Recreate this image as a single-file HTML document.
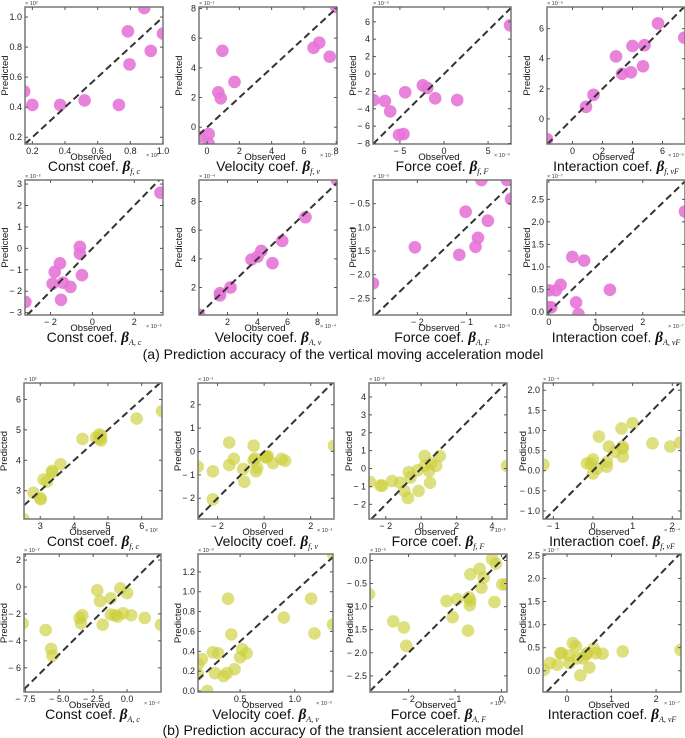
<!DOCTYPE html>
<html><head><meta charset="utf-8">
<style>
html,body{margin:0;padding:0;background:#fff;}
svg{display:block;font-family:"Liberation Sans",sans-serif;}
</style></head>
<body>
<svg id="fig" width="685" height="738" viewBox="0 0 685 738">
<text x="343" y="359" text-anchor="middle" font-size="14" fill="#111">(a) Prediction accuracy of the vertical moving acceleration model</text>
<text x="343" y="735" text-anchor="middle" font-size="14" fill="#111">(b) Prediction accuracy of the transient acceleration model</text>
</svg>
<script>
// ---- data: observed / predicted values per panel ----
const obs1=[0.15,0.2,0.37,0.52,0.73,0.785,0.795,0.885,0.925,1.0];
const pred1=[0.505,0.415,0.415,0.445,0.415,0.905,0.685,1.06,0.775,0.89];
const obs2=[-0.5,0.1,0.1,0.7,0.85,0.95,1.7,6.6,6.95,7.6,8.0];
const pred2=[-0.65,-0.45,-1.1,2.35,1.95,5.15,3.05,5.35,5.7,4.75,8.1];
const obs3=[-8,-6.7,-6.1,-4.4,-5.1,-4.6,-2.4,-1.9,-1.0,1.5,7.5];
const pred3=[-3,-3.1,-4.3,-2.1,-7,-6.9,-1.3,-1.6,-2.8,-3,5.6];
const obs4=[-1.7,0.9,1.4,2.9,3.3,3.9,4.0,4.7,4.8,5.7,7.45];
const pred4=[-1.35,0.8,1.6,4.15,3.0,3.1,4.85,3.5,4.9,6.35,5.4];
const obs5=[-3.2,-1.9,-1.8,-1.55,-1.5,-1.4,-1.05,-0.6,-0.6,-0.5,3.25];
const pred5=[-2.5,-1.65,-1.1,-0.7,-2.4,-1.6,-1.8,0.07,-0.25,-1.25,2.6];
const obs6=[0.1,1.5,1.5,2.2,3.6,4.0,4.25,5.0,5.65,7.2,9.3];
const pred6=[0.1,1.6,1.45,2.0,3.95,4.15,4.55,3.7,5.25,6.9,9.5];
const obs7=[-2.9,-2.05,-1.15,-1.02,-0.82,-0.77,-0.57,-0.7,-0.18,-0.1];
const pred7=[-2.18,-1.42,-1.58,-0.67,-1.41,-1.22,-0.86,0.0,0.0,-0.4];
const obs8=[0,0,0.05,0.15,0.25,0.5,0.58,0.63,0.75,1.3,2.9];
const pred8=[0.48,0.1,0.1,0.48,0.6,1.22,0.21,-0.05,1.14,0.49,2.23];
const obs9=[2.5,2.8,3.0,3.02,3.1,3.2,3.35,3.35,3.6,4.25,4.65,4.75,4.8,4.8,4.75,5.85,6.6];
const pred9=[2.07,2.93,2.75,2.72,3.37,3.3,3.6,3.65,3.87,4.7,4.75,4.85,4.65,4.8,4.7,5.37,5.62];
const obs10=[-2.85,-2.2,-2.2,-1.5,-1.5,-1.3,-0.9,-0.85,-0.45,-0.45,-0.4,-0.35,-0.3,0.05,0.1,0.15,0.38,0.75,0.9,3.0];
const pred10=[-0.65,-0.85,-2.05,0.38,-0.58,-0.32,-0.75,-1.3,0.25,-0.38,-0.3,-0.85,-0.7,-0.25,-0.25,-0.2,-0.5,-0.32,-0.4,0.25];
const obs11=[-2.9,-2.3,-2.2,-1.65,-1.2,-0.95,-0.75,-0.7,-0.6,-0.2,-0.15,0.2,0.2,0.45,0.5,0.55,0.85,1.05,4.85];
const pred11=[-0.75,-0.95,-0.95,-0.7,-0.78,-1.25,-1.65,-0.2,-0.5,-0.1,-1.25,0.7,0.15,-0.15,-0.8,0.3,0.15,0.7,0.15];
const obs12=[-1.25,-0.15,-0.05,0.0,0.0,0.1,0.15,0.35,0.35,0.4,0.55,0.72,0.75,0.75,0.75,1.0,1.5,1.95,2.2];
const pred12=[0.15,0.18,0.18,0.28,-0.07,0.05,0.85,0.22,0.1,0.6,0.47,1.05,0.6,0.55,0.35,1.18,0.68,0.6,0.7];
const obs13=[-7.7,-6.0,-5.6,-5.5,-3.5,-3.4,-3.3,-2.2,-2.0,-1.8,-1.2,-1.2,-0.9,-0.7,-0.5,-0.3,0.0,0.3,1.3,2.5];
const pred13=[-2.7,-3.2,-4.6,-5.1,-2.3,-2.7,-2.1,-0.25,-1.05,-2.8,-0.85,-2.05,-2.1,-2.2,-0.1,-1.95,-0.45,-2.1,-2.3,-2.8];
const obs14=[0.115,0.115,0.15,0.2,0.25,0.27,0.3,0.35,0.38,0.39,0.42,0.45,0.5,0.52,0.56,0.9,1.15,1.18,1.35,1.35];
const pred14=[0.17,0.27,0.32,0.0,0.39,0.18,0.38,0.15,0.18,0.93,0.57,0.22,0.34,0.42,0.38,0.74,0.93,0.58,0.67,1.38];
const obs15=[-2.85,-2.33,-2.1,-2.05,-1.18,-1.05,-0.95,-0.72,-0.7,-0.68,-0.67,-0.67,-0.47,-0.43,-0.38,-0.2,-0.15,-0.12,0.02,0.1];
const pred15=[-0.73,-1.32,-1.45,-1.85,-0.88,-1.23,-0.84,-1.52,-0.8,-0.97,-0.87,-0.3,-0.18,-0.59,-0.37,0.03,-0.9,-0.07,-0.52,-0.52];
const obs16=[-0.52,-0.38,-0.22,-0.15,-0.12,0.05,0.05,0.13,0.2,0.23,0.3,0.35,0.43,0.45,0.5,0.6,0.65,0.8,1.25,2.55];
const pred16=[0.02,0.17,0.13,0.38,0.38,0.33,0.17,0.6,0.53,0.27,-0.1,0.27,0.35,0.38,0.07,0.48,0.38,0.37,0.42,0.45];
// ---- tick values per panel ----
const xTicks=[[0.2,0.4,0.6,0.8,1.0],[0,2,4,6,8],[-5,0,5],[0,2,4,6],[-2,0,2],[2,4,6,8],[-2,-1],[0,1,2],
  [3,4,5,6],[-2,0,2],[-2,0,2,4],[-1,0,1,2],[-7.5,-5,-2.5,0],[0.5,1.0],[-2,-1,0],[0,1,2]];
const yTicks=[[0.2,0.4,0.6,0.8,1.0],[0,2,4,6,8],[-8,-6,-4,-2,0,2,4,6],[0,2,4,6],[-3,-2,-1,0,1,2,3],[2,4,6,8],[-2.5,-2,-1.5,-1,-0.5],[0,0.5,1,1.5,2,2.5],
  [3,4,5,6],[-2,-1,0,1,2],[-2,-1,0,1,2,3,4],[-1,-0.5,0,0.5,1,1.5,2],[-6,-4,-2,0,2],[0,0.2,0.4,0.6,0.8,1.0,1.2],[-2.5,-2,-1.5,-1,-0.5,0],[0,0.5,1,1.5,2,2.5]];
const xDec=[1,0,0,0,0,0,0,0, 0,0,0,0,1,1,0,0];
const yDec=[1,0,0,0,0,0,1,1, 0,0,0,1,0,1,1,1];
const titles=["Const coef. ","Velocity coef. ","Force coef. ","Interaction coef. "];
const subs=[["f, c","f, v","f, F","f, vF"],["A, c","A, v","A, F","A, vF"]];
const expX=["10²","10⁻¹","10⁻³","10⁻⁵","10⁻²","10⁻⁴","10⁻⁵","10⁻⁷","10²","10⁻¹","10⁻²","10⁻⁴","10⁻²","10⁻³","10⁻⁵","10⁻⁷"];
const expY=["10²","10⁻¹","10⁻⁵","10⁻⁵","10⁻²","10⁻⁴","10⁻⁵","10⁻⁷","10²","10⁻¹","10⁻²","10⁻⁴","10⁻²","10⁻³","10⁻⁵","10⁻⁷"];
// ---- layout (axis extents) ----
const boxes=[[25,7,163,144],[199,7,337,144],[373,7,511,144],[547,7,685,144],
 [25,180,163,315],[199,180,337,315],[373,180,511,315],[547,180,685,315],
 [24,383,162,519],[198,383,334,519],[369,383,507,519],[543,383,681,519],
 [24,554,161,692],[198,554,333,692],[370,554,507,692],[543,554,681,692]];
const xRange=[[0.155,1.0],[-0.5,8.05],[-8.05,7.6],[-1.7,7.5],[-3.22,3.37],[0.1,9.3],[-2.9,-0.1],[-0.04,2.9],
 [2.52,6.6],[-2.84,3.0],[-2.95,4.85],[-1.26,2.22],[-7.6,2.5],[0.115,1.35],[-2.83,0.12],[-0.54,2.56]];
const yRange=[[0.155,1.067],[-1.13,8.1],[-8.05,7.7],[-1.67,7.44],[-3.11,3.19],[0.08,9.5],[-2.85,0.0],[-0.07,2.93],
 [2.07,6.54],[-2.89,2.93],[-2.82,4.78],[-1.2,2.18],[-7.8,2.45],[-0.01,1.38],[-2.85,0.14],[-0.46,2.53]];
const obsAll=[obs1,obs2,obs3,obs4,obs5,obs6,obs7,obs8,obs9,obs10,obs11,obs12,obs13,obs14,obs15,obs16];
const predAll=[pred1,pred2,pred3,pred4,pred5,pred6,pred7,pred8,pred9,pred10,pred11,pred12,pred13,pred14,pred15,pred16];

const NS="http://www.w3.org/2000/svg";
const svg=document.getElementById('fig');
function mk(tag,attrs,parent){const e=document.createElementNS(NS,tag);for(const k in attrs)e.setAttribute(k,attrs[k]);(parent||svg).appendChild(e);return e;}
function fmt(v,d){const s=Math.abs(v).toFixed(d);return v<0?"\u2212 "+s:s;}

for(let i=0;i<16;i++){
  const [x0,y0,x1,y1]=boxes[i];
  const [xa,xb]=xRange[i],[ya,yb]=yRange[i];
  const sx=v=>x0+(v-xa)/(xb-xa)*(x1-x0);
  const sy=v=>y1-(v-ya)/(yb-ya)*(y1-y0);
  const g=mk('g',{});
  
  
  const cp=mk('clipPath',{id:'cp'+i},g);
  mk('rect',{x:x0,y:y0,width:x1-x0,height:y1-y0},cp);
  const pts=mk('g',{'clip-path':'url(#cp'+i+')'},g);
  const color=i<8?'#e574d6':'#cdd03c';
  const op=i<8?0.9:0.65;
  const o=obsAll[i],p=predAll[i];
  for(let k=0;k<o.length;k++){
    const c=mk('circle',{cx:sx(o[k]),cy:sy(p[k]),r:6.3,fill:color,'fill-opacity':op},pts);
    
    
  }
  const lo=Math.max(xa,ya),hi=Math.min(xb,yb);
  const dl=mk('line',{x1:sx(lo),y1:sy(lo),x2:sx(hi),y2:sy(hi),stroke:'#333','stroke-width':2,'stroke-dasharray':'7,4'},pts);
  
  
  const fr=mk('rect',{x:x0,y:y0,width:x1-x0,height:y1-y0,fill:'none',stroke:'#777','stroke-width':1.5},g);
  
  
  xTicks[i].forEach(v=>{
    const X=sx(v);
    mk('line',{x1:X,y1:y1,x2:X,y2:y1-3,stroke:'#555','stroke-width':1},g);
    mk('line',{x1:X,y1:y0,x2:X,y2:y0+3,stroke:'#555','stroke-width':1},g);
    const t=mk('text',{x:X,y:y1+10,'text-anchor':'middle','font-size':9,fill:'#222'},g);
    t.textContent=fmt(v,xDec[i]);
    
    
  });
  yTicks[i].forEach(v=>{
    const Y=sy(v);
    mk('line',{x1:x0,y1:Y,x2:x0+3,y2:Y,stroke:'#555','stroke-width':1},g);
    mk('line',{x1:x1,y1:Y,x2:x1-3,y2:Y,stroke:'#555','stroke-width':1},g);
    const t=mk('text',{x:x0-3,y:Y+3,'text-anchor':'end','font-size':9,fill:'#222'},g);
    t.textContent=fmt(v,yDec[i]);
    
    
  });
  const cx=(x0+x1)/2,cy=(y0+y1)/2;
  const yl=mk('text',{x:x0-17,y:cy,'text-anchor':'middle','font-size':9.5,fill:'#111',transform:`rotate(-90 ${x0-17} ${cy})`},g);
  yl.textContent='Predicted';
  
  
  const xl=mk('text',{x:cx-3,y:y1+16,'text-anchor':'middle','font-size':9.5,fill:'#111'},g);
  xl.textContent='Observed';
  
  
  const ex=mk('text',{x:x1-17,y:y1+13,'font-size':5.5,fill:'#333'},g);
  ex.textContent='× '+expX[i];
  
  
  const ey=mk('text',{x:x0,y:y0-2,'font-size':5.5,fill:'#333'},g);
  ey.textContent='× '+expY[i];
  
  
  const tt=mk('text',{x:cx,y:y1+27,'text-anchor':'middle','font-size':14,fill:'#111'},g);
  
  
  const s1=mk('tspan',{},tt); s1.textContent=titles[i%4];
  const s2=mk('tspan',{'font-family':'Liberation Serif, serif','font-style':'italic','font-weight':'bold','font-size':15},tt); s2.textContent='β';
  const s3=mk('tspan',{'font-family':'Liberation Serif, serif','font-style':'italic','font-size':8,dy:3},tt); s3.textContent=subs[Math.floor(i/4)%2===0?0:1][i%4];
}
</script>
</body></html>
